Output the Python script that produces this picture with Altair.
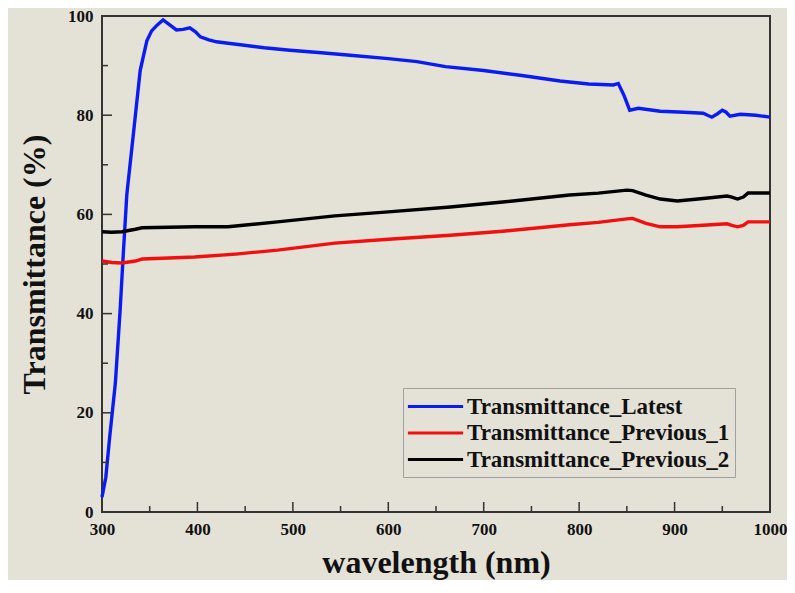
import altair as alt
import pandas as pd

series_names = ["Transmittance_Latest", "Transmittance_Previous_1", "Transmittance_Previous_2"]
series_colors = ["#0a1cf0", "#f01010", "#000000"]

latest_wl = [300, 304, 308, 314, 319, 322, 326, 333, 340, 347, 352, 358, 364, 371, 378, 385, 392, 398,
             403, 412, 420, 432, 445, 470, 497, 530, 560, 600, 630, 660, 700, 740, 780, 810, 836, 841,
             847, 853, 862, 885, 910, 930, 939, 945, 950, 954, 958, 969, 985, 1000]
latest_val = [3, 7, 15, 26, 40.7, 51, 64, 76.4, 89, 95, 97, 98.2, 99.2, 98.2, 97.2, 97.3, 97.6, 96.8,
              95.8, 95.2, 94.8, 94.5, 94.2, 93.6, 93.1, 92.6, 92.1, 91.4, 90.8, 89.8, 89.0, 88.0, 86.9, 86.3, 86.1, 86.4,
              84.0, 81.0, 81.4, 80.8, 80.6, 80.4, 79.6, 80.3, 81.0, 80.6, 79.8, 80.2, 80.0, 79.6]

prev1_wl = [300, 310, 321, 335, 342, 370, 397, 440, 484, 544, 600, 665, 720, 790, 820, 850, 856, 870,
            885, 903, 930, 955, 960, 966, 972, 977, 1000]
prev1_val = [50.6, 50.3, 50.2, 50.6, 51.0, 51.2, 51.4, 52.0, 52.8, 54.2, 55.0, 55.8, 56.6, 57.9, 58.4, 59.1, 59.2, 58.2,
             57.5, 57.5, 57.8, 58.1, 57.8, 57.5, 57.8, 58.5, 58.5]

prev2_wl = [300, 310, 321, 335, 342, 370, 397, 432, 484, 544, 600, 665, 720, 790, 820, 850, 856, 870,
            885, 903, 930, 955, 960, 966, 972, 977, 1000]
prev2_val = [56.5, 56.4, 56.5, 57.0, 57.3, 57.4, 57.5, 57.5, 58.5, 59.7, 60.5, 61.5, 62.5, 63.9, 64.3, 64.9, 64.8, 63.9,
             63.1, 62.7, 63.2, 63.7, 63.5, 63.1, 63.5, 64.3, 64.3]

x_major = [300, 400, 500, 600, 700, 800, 900, 1000]
x_minor = [350, 450, 550, 650, 750, 850, 950]
y_major = [0, 20, 40, 60, 80, 100]
y_minor = [10, 30, 50, 70, 90]

rows = []
for name, wl, vals in [(series_names[0], latest_wl, latest_val),
                       (series_names[1], prev1_wl, prev1_val),
                       (series_names[2], prev2_wl, prev2_val)]:
    for i, (w, v) in enumerate(zip(wl, vals)):
        rows.append({"series": name, "wavelength": w, "T": v, "order": i})
df = pd.DataFrame(rows)

FONT = "Liberation Serif"
W, H = 668, 496

xscale = alt.Scale(domain=[300, 1000], nice=False)
yscale = alt.Scale(domain=[0, 100], nice=False)

lines = alt.Chart(df).mark_line(strokeWidth=3.4).encode(
    x=alt.X("wavelength:Q", scale=xscale,
            axis=alt.Axis(values=x_major, ticks=False, domain=False, grid=False, format="d",
                          labelFlush=False,
                          labelFont=FONT, labelFontWeight="bold", labelFontSize=17, labelColor="#111",
                          labelPadding=9, title="wavelength (nm)", titleFont=FONT, titleFontSize=32,
                          titleFontWeight="bold", titleColor="#111", titlePadding=10)),
    y=alt.Y("T:Q", scale=yscale,
            axis=alt.Axis(values=y_major, ticks=False, domain=False, grid=False, format="d",
                          labelFlush=False,
                          labelFont=FONT, labelFontWeight="bold", labelFontSize=17, labelColor="#111",
                          labelPadding=9, title="Transmittance (%)", titleFont=FONT, titleFontSize=32,
                          titleFontWeight="bold", titleColor="#111", titlePadding=16)),
    color=alt.Color("series:N", scale=alt.Scale(domain=series_names, range=series_colors),
                    legend=alt.Legend(title=None, orient="none", legendX=301, legendY=372,
                                      symbolType="M-2.3,0H2.3", symbolSize=576, symbolStrokeWidth=3,
                                      symbolOffset=14, labelOffset=18,
                                      labelFont=FONT, labelFontWeight="bold", labelFontSize=23,
                                      labelColor="#111", strokeColor="#a0a0a0", padding=5,
                                      rowPadding=0.5, labelLimit=400)),
    order="order:Q",
)

xmaj = alt.Chart(pd.DataFrame({"wavelength": x_major[1:-1]})).mark_rule(color="#333", strokeWidth=1.5).encode(
    x=alt.X("wavelength:Q", scale=xscale), y=alt.value(H), y2=alt.value(H - 10))
xmin = alt.Chart(pd.DataFrame({"wavelength": x_minor})).mark_rule(color="#333", strokeWidth=1.5).encode(
    x=alt.X("wavelength:Q", scale=xscale), y=alt.value(H), y2=alt.value(H - 6))
ymaj = alt.Chart(pd.DataFrame({"T": y_major[1:-1]})).mark_rule(color="#333", strokeWidth=1.5).encode(
    y=alt.Y("T:Q", scale=yscale), x=alt.value(0), x2=alt.value(10))
ymin = alt.Chart(pd.DataFrame({"T": y_minor})).mark_rule(color="#333", strokeWidth=1.5).encode(
    y=alt.Y("T:Q", scale=yscale), x=alt.value(0), x2=alt.value(6))

chart = alt.layer(lines, xmaj, xmin, ymaj, ymin).properties(
    width=W, height=H,
    background="#e4e1d7",
    padding={"left": 94, "top": 8, "right": 17, "bottom": 68},
    autosize=alt.AutoSizeParams(type="none"),
).configure_view(stroke="#333", strokeWidth=2)

chart.save("out.html", embed_options={"renderer": "svg", "actions": False})
